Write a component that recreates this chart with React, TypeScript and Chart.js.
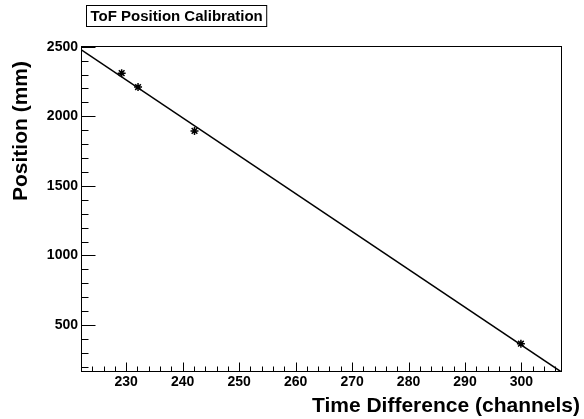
import React, { useEffect, useRef } from "react";
import { Chart, registerables } from "chart.js";

Chart.register(...registerables);

const titleText = "ToF Position Calibration";
const xTitle = "Time Difference (channels)";
const yTitle = "Position (mm)";

const timeDiff = [229.2, 232.1, 242.1, 299.9];
const position = [2310, 2210, 1895, 366];

const fitX = [222.0, 307.0];
const fitY = [2479, 165];

const xRange = [222.0, 307.0];
const yRange = [170, 2505];

const xMajorTicks = [230, 240, 250, 260, 270, 280, 290, 300];
const yMajorTicks = [500, 1000, 1500, 2000, 2500];
const xMinorStep = 2;
const yMinorStep = 100;

const FONT = '"Liberation Sans", Arial, Helvetica, sans-serif';

const rootPlugin = {
  id: "rootDecor",
  afterDraw(chart: any) {
    const ctx = chart.ctx;
    const area = chart.chartArea;
    const xs = chart.scales.x;
    const ys = chart.scales.y;
    ctx.save();
    ctx.strokeStyle = "#000";
    ctx.lineWidth = 1;
    ctx.strokeRect(Math.round(area.left) + 0.5, Math.round(area.top) + 0.5, Math.round(area.right - area.left), Math.round(area.bottom - area.top));
    ctx.beginPath();
    const bottom = Math.round(area.bottom) + 0.5;
    for (let v = Math.ceil(xRange[0] / xMinorStep) * xMinorStep; v <= xRange[1]; v += xMinorStep) {
      const px = Math.round(xs.getPixelForValue(v)) + 0.5;
      const major = xMajorTicks.includes(v);
      ctx.moveTo(px, bottom);
      ctx.lineTo(px, bottom - (major ? 9 : 5));
    }
    const left = Math.round(area.left) + 0.5;
    for (let v = Math.ceil(yRange[0] / yMinorStep) * yMinorStep; v <= yRange[1]; v += yMinorStep) {
      const py = Math.round(ys.getPixelForValue(v)) + 0.5;
      const major = yMajorTicks.includes(v);
      ctx.moveTo(left, py);
      ctx.lineTo(left + (major ? 14 : 7), py);
    }
    ctx.stroke();

    // title box
    ctx.font = `bold 15px ${FONT}`;
    ctx.textBaseline = "middle";
    ctx.textAlign = "left";
    const tw = ctx.measureText(titleText).width;
    const bx = 86;
    const by = 5;
    const bw = tw + 8;
    const bh = 21;
    ctx.fillStyle = "#fff";
    ctx.fillRect(bx, by, bw, bh);
    ctx.strokeRect(bx + 0.5, by + 0.5, bw, bh);
    ctx.fillStyle = "#000";
    ctx.fillText(titleText, bx + 4.5, by + bh / 2 + 1);

    // x title
    ctx.font = `bold 21px ${FONT}`;
    ctx.textAlign = "right";
    ctx.fillText(xTitle, 580, 406);

    // y title
    ctx.save();
    ctx.translate(21, 61);
    ctx.rotate(-Math.PI / 2);
    ctx.textAlign = "right";
    ctx.fillText(yTitle, 0, 0);
    ctx.restore();

    ctx.restore();
  },
};

export default function App() {
  const ref = useRef<HTMLCanvasElement>(null);
  useEffect(() => {
    document.body.style.margin = "0";
    const canvas = ref.current!;
    const chart = new Chart(canvas, {
      type: "scatter",
      data: {
        datasets: [
          {
            type: "line",
            data: fitX.map((x, i) => ({ x, y: fitY[i] })),
            borderColor: "#000",
            borderWidth: 1.5,
            pointRadius: 0,
            fill: false,
            tension: 0,
          },
          {
            data: timeDiff.map((x, i) => ({ x, y: position[i] })),
            pointStyle: "star",
            pointRadius: 4,
            borderColor: "#000",
            backgroundColor: "#000",
            borderWidth: 1.5,
          },
        ],
      },
      options: {
        responsive: false,
        animation: false,
        devicePixelRatio: 1,
        layout: { padding: { left: 0, right: 23, top: 46, bottom: 0 } },
        plugins: { legend: { display: false }, title: { display: false }, tooltip: { enabled: false } },
        scales: {
          x: {
            type: "linear",
            min: xRange[0],
            max: xRange[1],
            grid: { display: false, drawTicks: false },
            border: { display: false },
            afterBuildTicks: (s: any) => {
              s.ticks = xMajorTicks.map((v) => ({ value: v }));
            },
            afterFit: (s: any) => {
              s.height = 48;
            },
            ticks: {
              color: "#000",
              font: { family: FONT, size: 14, weight: "bold" },
              padding: 3,
              maxRotation: 0,
              autoSkip: false,
              callback: (v: any) => String(v),
            },
          },
          y: {
            type: "linear",
            min: yRange[0],
            max: yRange[1],
            grid: { display: false, drawTicks: false },
            border: { display: false },
            afterBuildTicks: (s: any) => {
              s.ticks = yMajorTicks.map((v) => ({ value: v }));
            },
            afterFit: (s: any) => {
              s.width = 81;
            },
            ticks: {
              color: "#000",
              font: { family: FONT, size: 14, weight: "bold" },
              padding: 3,
              autoSkip: false,
              callback: (v: any) => String(v),
            },
          },
        },
      },
      plugins: [rootPlugin],
    } as any);
    return () => chart.destroy();
  }, []);
  return (
    <div style={{ width: 584, height: 419 }}>
      <canvas ref={ref} width={584} height={419} style={{ display: "block" }} />
    </div>
  );
}
